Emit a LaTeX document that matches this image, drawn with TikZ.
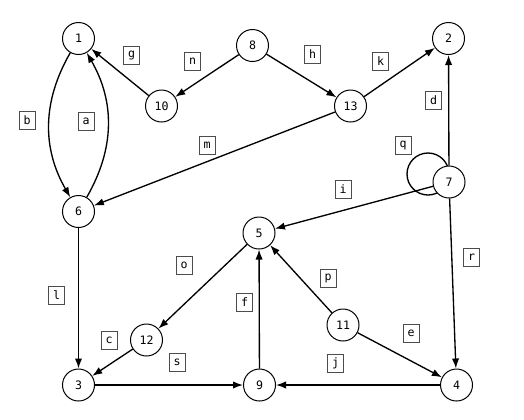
\documentclass[tikz,border=0pt]{standalone}
\usepackage{fontspec}
\setmonofont{DejaVu Sans Mono}
\usetikzlibrary{automata,arrows.meta}

\begin{document}
\begin{tikzpicture}[x=0.75pt,y=-0.75pt,
	every state/.style={draw,fill=white,line width=0.75pt,minimum size=24pt,inner sep=0pt,font=\ttfamily\fontsize{8.7}{10}\selectfont},
	lbl/.style={draw=black!70,line width=0.7pt,minimum width=12pt,minimum height=13.5pt,inner sep=0pt,font=\ttfamily\fontsize{8.7}{10}\selectfont},
	>={Latex[length=7.5pt,width=5.5pt]}]
	\useasboundingbox (0,0) rectangle (524,419);

	% loop q drawn under node 7
	\coordinate (qc) at (428,174);
	\draw[line width=1pt] (qc) circle[radius=15.75pt];

	\node[state] (1)  at (78.5,38.5)  {1};
	\node[state] (2)  at (448.5,38.5) {2};
	\node[state] (8)  at (252.5,45.5) {8};
	\node[state] (10) at (161.5,106)  {10};
	\node[state] (13) at (350.5,106)  {13};
	\node[state] (7)  at (449,182)    {7};
	\node[state] (6)  at (78.5,211.5) {6};
	\node[state] (5)  at (259,233)    {5};
	\node[state] (11) at (343,325)    {11};
	\node[state] (12) at (146.5,340)  {12};
	\node[state] (3)  at (78.5,385)   {3};
	\node[state] (9)  at (259.5,385)  {9};
	\node[state] (4)  at (456.5,385)  {4};

	\path[->,line width=1pt]
	(1)  edge [bend right=30] (6)
	(6)  edge [bend right=30] (1)
	     edge (3)
	(10) edge (1)
	(8)  edge (10)
	     edge (13)
	(13) edge (2)
	     edge (6)
	(7)  edge (2)
	     edge (5)
	     edge (4)
	(5)  edge (12)
	(12) edge (3)
	(3)  edge (9)
	(9)  edge (5)
	(11) edge (5)
	     edge (4)
	(4)  edge (9);

	\node[lbl] (la) at (86,121)    {a};
	\node[lbl] (lb) at (27,120)    {b};
	\node[lbl] (lc) at (109,340.5) {c};
	\node[lbl] (ld) at (433.5,100) {d};
	\node[lbl] (le) at (411,333)   {e};
	\node[lbl] (lf) at (244.5,302.5) {f};
	\node[lbl] (lg) at (131.5,55)  {g};
	\node[lbl] (lh) at (312.5,54)  {h};
	\node[lbl] (li) at (343,189.5) {i};
	\node[lbl] (lj) at (335.5,363.5) {j};
	\node[lbl] (lk) at (380.5,61.5) {k};
	\node[lbl] (ll) at (56.5,295.5) {l};
	\node[lbl] (lm) at (207,145)   {m};
	\node[lbl] (ln) at (192.5,61)  {n};
	\node[lbl] (lo) at (184,265.5) {o};
	\node[lbl] (lp) at (328,278)   {p};
	\node[lbl] (lq) at (403,145)   {q};
	\node[lbl] (lr) at (471.5,257) {r};
	\node[lbl] (ls) at (177,362.5) {s};
\end{tikzpicture}
\end{document}
